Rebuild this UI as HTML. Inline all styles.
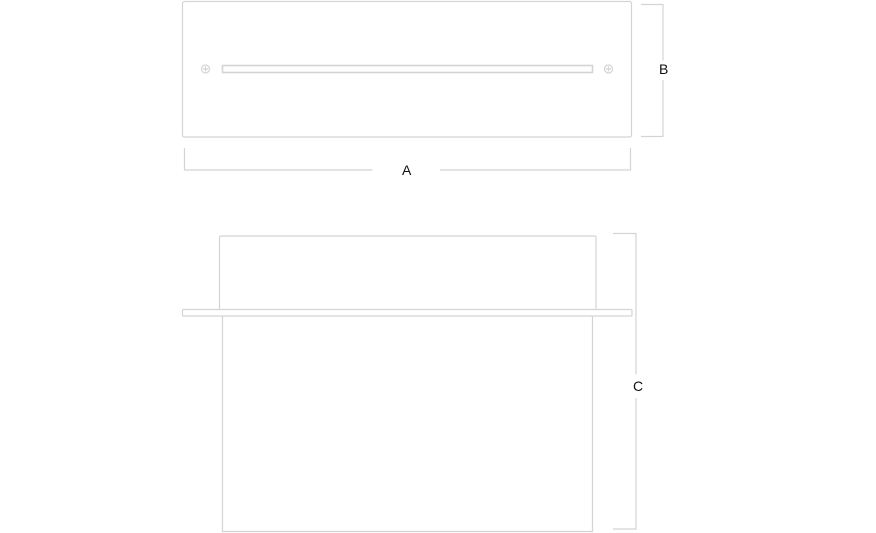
<!DOCTYPE html>
<html><head><style>html,body{margin:0;background:#fff;width:876px;height:533px;overflow:hidden}</style></head><body>
<svg width="876" height="533" xmlns="http://www.w3.org/2000/svg" fill="none" stroke="#d4d4d4" stroke-width="1.2">
<rect x="182.5" y="1.5" width="449" height="135.5" rx="2"/>
<rect x="222.5" y="65.5" width="370" height="7" stroke-width="1.6"/>
<circle cx="205.5" cy="69" r="4"/><path d="M203 69h5M205.5 66.5v5"/>
<circle cx="608.5" cy="69" r="4"/><path d="M606 69h5M608.5 66.5v5"/>
<path d="M641 4.5h22v56M663 80v56.5h-22"/>
<path d="M184.5 148v22h188M440 170h190.5v-22"/>
<path d="M219.5 310V238q0-2 2-2H594q2 0 2 2v72"/>
<rect x="182.5" y="309.5" width="449.5" height="6.5" rx="1"/>
<path d="M222.5 316v215.5h370V316"/>
<path d="M613 233.5h23v141M636 398v131h-23"/>
<g fill="#111" stroke="none" font-family="Liberation Sans, sans-serif" font-size="14">
<text x="659" y="74">B</text><text x="402" y="175">A</text><text x="633" y="391">C</text></g>
</svg>
</body></html>
